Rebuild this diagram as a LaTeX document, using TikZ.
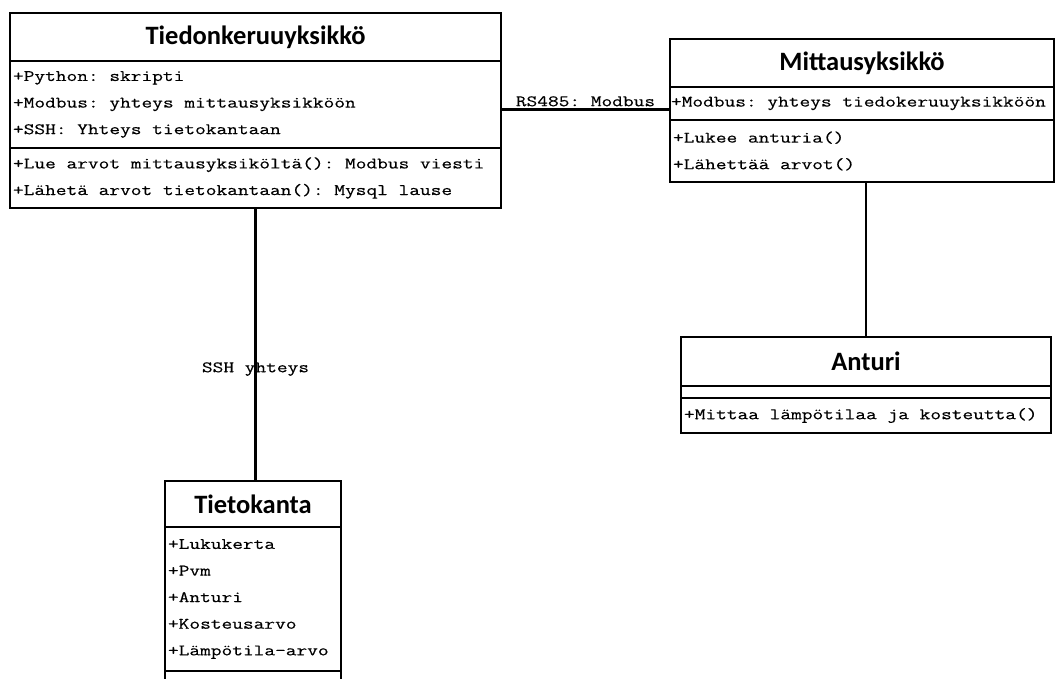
\documentclass[tikz,border=0pt]{standalone}
\usepackage{fontspec}
\usetikzlibrary{positioning}
\newfontfamily\clsfont{Carlito}
\newfontfamily\memfont[FakeStretch=1.30,FakeBold=0.4,WordSpace={1,0,0}]{Latin Modern Mono}
\frenchspacing
\begin{document}
\begin{tikzpicture}[x=1pt,y=-1pt,line width=2.6pt,
  head/.style={draw,anchor=north west,inner sep=0pt,outer sep=0pt,
    font=\clsfont\bfseries\fontsize{26.5}{30}\selectfont},
  part/.style={draw,inner xsep=3pt,inner ysep=0pt,outer sep=0pt,
    font=\memfont\fontsize{16}{26.6}\selectfont,
    execute at begin node={\spaceskip=0pt\xspaceskip=0pt}},
  link/.style={line width=2.2pt},
  lbl/.style={font=\memfont\fontsize{16}{18}\selectfont,inner sep=2pt}]
\useasboundingbox(0,0)rectangle(1056,679);
%
\node[head,minimum width=491pt,minimum height=48pt](tiedHead)at(10,13){Tiedonkeruuyksikkö};
\node[part,text width=485pt,minimum height=87pt,below=0pt of tiedHead](tiedAttr){+Python: skripti\\+Modbus: yhteys mittausyksikköön\\+SSH: Yhteys tietokantaan};
\node[part,text width=485pt,minimum height=60pt,below=0pt of tiedAttr](tiedOps){+Lue arvot mittausyksiköltä(): Modbus viesti\\+Lähetä arvot tietokantaan(): Mysql lause};
%
\node[head,minimum width=384pt,minimum height=48pt](mittHead)at(670,39){Mittausyksikkö};
\node[part,inner xsep=1pt,text width=382pt,minimum height=33pt,below=0pt of mittHead](mittAttr){\mbox{+Modbus: yhteys tiedokeruuyksikköön}};
\node[part,text width=378pt,minimum height=62pt,below=0pt of mittAttr](mittOps){+Lukee anturia()\\+Lähettää arvot()};
%
\node[head,minimum width=370pt,minimum height=49pt](antHead)at(681,337){Anturi};
\node[part,text width=364pt,minimum height=12pt,below=0pt of antHead](antAttr){};
\node[part,text width=364pt,minimum height=35pt,below=0pt of antAttr](antOps){+Mittaa lämpötilaa ja kosteutta()};
%
\node[head,minimum width=176pt,minimum height=46pt](tietHead)at(165,481){Tietokanta};
\node[part,text width=170pt,minimum height=144pt,below=0pt of tietHead](tietAttr){+Lukukerta\\+Pvm\\+Anturi\\+Kosteusarvo\\+Lämpötila-arvo};
\node[part,text width=170pt,minimum height=30pt,below=0pt of tietAttr](tietOps){};
%
\draw[link]([yshift=-5pt]tiedAttr.east)--([yshift=-5pt]tiedAttr.east-|mittAttr.west)
  node[lbl,midway,above]{RS485: Modbus};
\draw[link](tiedOps.south)--(tiedOps.south|-tietHead.north)
  node[lbl,pos=0.59]{SSH yhteys};
\draw[link](antHead.north|-mittOps.south)--(antHead.north);
\end{tikzpicture}
\end{document}
